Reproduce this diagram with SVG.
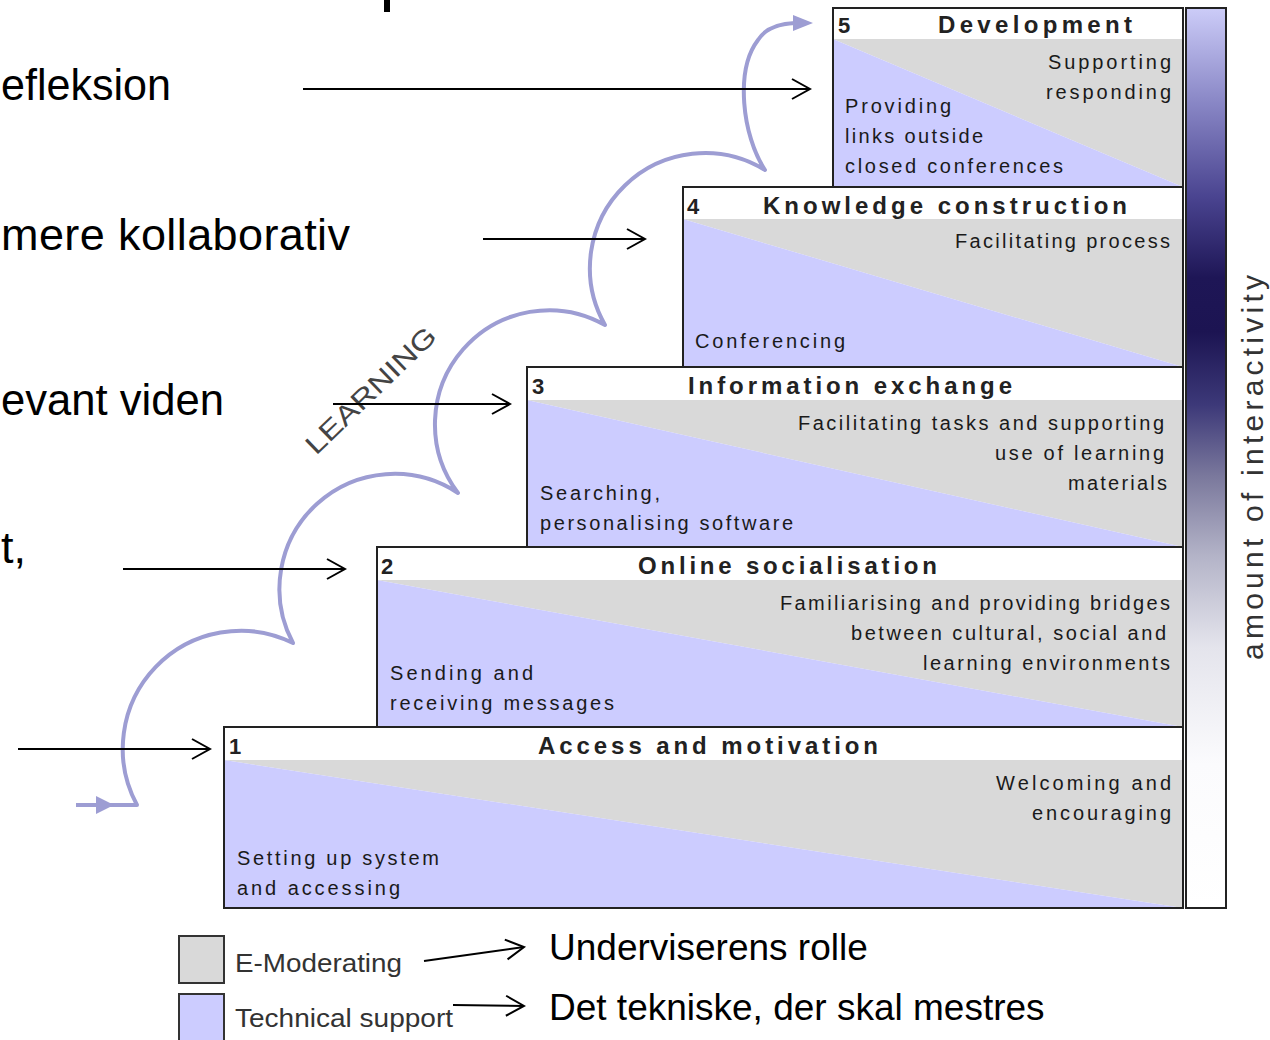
<svg xmlns="http://www.w3.org/2000/svg" width="1270" height="1040" viewBox="0 0 1270 1040">
<style>
.big{font-family:"Liberation Sans",Arial,sans-serif;font-size:45px;fill:#000}
.leg{font-family:"Liberation Sans",Arial,sans-serif;font-size:37px;fill:#000}
.legs{font-family:"Liberation Sans",Arial,sans-serif;font-size:26px;fill:#333}
.ttl{font-family:"Liberation Sans",Arial,sans-serif;font-size:24px;font-weight:bold;fill:#222}
.num{font-family:"Liberation Sans",Arial,sans-serif;font-size:22px;font-weight:bold;fill:#222}
.body{font-family:"Liberation Sans",Arial,sans-serif;font-size:20px;fill:#1a1a1a}
.hdr{fill:#fff}
.gray{fill:#d9d9d9}
.blue{fill:#ccccff}
.frame{fill:none;stroke:#222;stroke-width:2}
.arr{fill:none;stroke:#000;stroke-width:2;marker-end:url(#open)}
.learn{fill:none;stroke:#9d9dd3;stroke-width:4;stroke-linejoin:round}
</style>
<defs>
<marker id="open" viewBox="-20 -12 22 24" refX="0" refY="0" markerWidth="22" markerHeight="24" markerUnits="userSpaceOnUse" orient="auto">
<path d="M-18,-10 L0,0 L-18,10" fill="none" stroke="#000" stroke-width="2"/>
</marker>
<linearGradient id="inter" x1="0" y1="0" x2="0" y2="1">
<stop offset="0" stop-color="#ccccf8"/>
<stop offset="0.1" stop-color="#8c8ac8"/>
<stop offset="0.21" stop-color="#4a4490"/>
<stop offset="0.3" stop-color="#1e1656"/>
<stop offset="0.36" stop-color="#1c1452"/>
<stop offset="0.44" stop-color="#3c3878"/>
<stop offset="0.52" stop-color="#7a789c"/>
<stop offset="0.61" stop-color="#b4b4c8"/>
<stop offset="0.71" stop-color="#e4e4ec"/>
<stop offset="0.84" stop-color="#fbfbfd"/>
<stop offset="1" stop-color="#ffffff"/>
</linearGradient>
</defs>
<rect width="1270" height="1040" fill="#fff"/>

<!-- fragment of cut-off text at top -->
<rect x="384" y="0" width="6" height="12" fill="#000"/>

<g id="left-texts">
<text class="big" x="1" y="100" textLength="170" lengthAdjust="spacingAndGlyphs">efleksion</text>
<text class="big" x="1" y="250" textLength="349" lengthAdjust="spacing">mere kollaborativ</text>
<text class="big" x="1" y="415" textLength="223" lengthAdjust="spacingAndGlyphs">evant viden</text>
<text class="big" x="1" y="563">t,</text>
</g>

<g id="learning-curve">
<path class="learn" d="M76,805 L137,805 A118,118 0 0,1 293,643 A115,115 0 0,1 458,493 A114,114 0 0,1 605,325 A115,115 0 0,1 765,170 C742,135 735,70 758,40 Q768,24 795,23"/>
<polygon points="96,796 114,805 96,814" fill="#9d9dd3"/>
<polygon points="793,15 813,23 793,31" fill="#9d9dd3"/>
<text font-family="Liberation Sans, Arial, sans-serif" font-size="27" fill="#444" transform="translate(316,456) rotate(-44)" textLength="170" lengthAdjust="spacingAndGlyphs">LEARNING</text>
</g>

<g id="step5">
<rect class="hdr" x="833" y="8" width="350" height="31"/>
<polygon class="gray" points="833,39 1183,39 1183,187"/>
<polygon class="blue" points="833,39 833,187 1183,187"/>
<rect class="frame" x="833" y="8" width="350" height="179"/>
<text class="num" x="838" y="33">5</text>
<text class="ttl" x="938" y="33" textLength="194" lengthAdjust="spacing">Development</text>
<text class="body" x="1048" y="69" textLength="123" lengthAdjust="spacing">Supporting</text>
<text class="body" x="1046" y="99" textLength="125" lengthAdjust="spacing">responding</text>
<text class="body" x="845" y="113" textLength="106" lengthAdjust="spacing">Providing</text>
<text class="body" x="845" y="143" textLength="138" lengthAdjust="spacing">links outside</text>
<text class="body" x="845" y="173" textLength="218" lengthAdjust="spacing">closed conferences</text>
</g>

<g id="step4">
<rect class="hdr" x="683" y="187" width="500" height="32"/>
<polygon class="gray" points="683,219 1183,219 1183,367"/>
<polygon class="blue" points="683,219 683,367 1183,367"/>
<rect class="frame" x="683" y="187" width="500" height="180"/>
<text class="num" x="687" y="214">4</text>
<text class="ttl" x="763" y="214" textLength="364" lengthAdjust="spacing">Knowledge construction</text>
<text class="body" x="955" y="248" textLength="215" lengthAdjust="spacing">Facilitating process</text>
<text class="body" x="695" y="348" textLength="150" lengthAdjust="spacing">Conferencing</text>
</g>

<g id="step3">
<rect class="hdr" x="527" y="367" width="656" height="33"/>
<polygon class="gray" points="527,400 1183,400 1183,547"/>
<polygon class="blue" points="527,400 527,547 1183,547"/>
<rect class="frame" x="527" y="367" width="656" height="180"/>
<text class="num" x="532" y="394">3</text>
<text class="ttl" x="688" y="394" textLength="324" lengthAdjust="spacing">Information exchange</text>
<text class="body" x="798" y="430" textLength="366" lengthAdjust="spacing">Facilitating tasks and supporting</text>
<text class="body" x="995" y="460" textLength="169" lengthAdjust="spacing">use of learning</text>
<text class="body" x="1068" y="490" textLength="99" lengthAdjust="spacing">materials</text>
<text class="body" x="540" y="500" textLength="120" lengthAdjust="spacing">Searching,</text>
<text class="body" x="540" y="530" textLength="253" lengthAdjust="spacing">personalising software</text>
</g>

<g id="step2">
<rect class="hdr" x="377" y="547" width="806" height="33"/>
<polygon class="gray" points="377,580 1183,580 1183,727"/>
<polygon class="blue" points="377,580 377,727 1183,727"/>
<rect class="frame" x="377" y="547" width="806" height="180"/>
<text class="num" x="381" y="574">2</text>
<text class="ttl" x="638" y="574" textLength="299" lengthAdjust="spacing">Online socialisation</text>
<text class="body" x="780" y="610" textLength="390" lengthAdjust="spacing">Familiarising and providing bridges</text>
<text class="body" x="851" y="640" textLength="315" lengthAdjust="spacing">between cultural, social and</text>
<text class="body" x="923" y="670" textLength="247" lengthAdjust="spacing">learning environments</text>
<text class="body" x="390" y="680" textLength="143" lengthAdjust="spacing">Sending and</text>
<text class="body" x="390" y="710" textLength="224" lengthAdjust="spacing">receiving messages</text>
</g>

<g id="step1">
<rect class="hdr" x="224" y="727" width="959" height="33"/>
<polygon class="gray" points="224,760 1183,760 1183,908"/>
<polygon class="blue" points="224,760 224,908 1183,908"/>
<rect class="frame" x="224" y="727" width="959" height="181"/>
<text class="num" x="229" y="754">1</text>
<text class="ttl" x="538" y="754" textLength="340" lengthAdjust="spacing">Access and motivation</text>
<text class="body" x="996" y="790" textLength="175" lengthAdjust="spacing">Welcoming and</text>
<text class="body" x="1032" y="820" textLength="139" lengthAdjust="spacing">encouraging</text>
<text class="body" x="237" y="865" textLength="202" lengthAdjust="spacing">Setting up system</text>
<text class="body" x="237" y="895" textLength="163" lengthAdjust="spacing">and accessing</text>
</g>

<g id="interactivity-bar">
<rect x="1186" y="8" width="40" height="900" fill="url(#inter)" stroke="#222" stroke-width="2"/>
<text font-family="Liberation Sans, Arial, sans-serif" font-size="30" fill="#333" transform="translate(1263,660) rotate(-90)" textLength="385" lengthAdjust="spacing">amount of interactivity</text>
</g>

<g id="legend-emoderating">
<rect x="179" y="936" width="45" height="47" fill="#d9d9d9" stroke="#333" stroke-width="2"/>
<text class="legs" x="235" y="972" textLength="167" lengthAdjust="spacingAndGlyphs">E-Moderating</text>
<text class="leg" x="549" y="960">Underviserens rolle</text>
</g>
<g id="legend-technical">
<rect x="179" y="994" width="45" height="47" fill="#ccccff" stroke="#333" stroke-width="2"/>
<text class="legs" x="235" y="1027" textLength="218" lengthAdjust="spacingAndGlyphs">Technical support</text>
<text class="leg" x="549" y="1020">Det tekniske, der skal mestres</text>
</g>

<g id="connectors">
<line class="arr" x1="303" y1="89" x2="810" y2="89"/>
<line class="arr" x1="483" y1="239" x2="645" y2="239"/>
<line class="arr" x1="333" y1="404" x2="510" y2="404"/>
<line class="arr" x1="123" y1="569" x2="345" y2="569"/>
<line class="arr" x1="18" y1="749" x2="210" y2="749"/>
<line class="arr" x1="424" y1="961" x2="524" y2="947"/>
<line class="arr" x1="453" y1="1005" x2="524" y2="1006"/>
</g>
</svg>
